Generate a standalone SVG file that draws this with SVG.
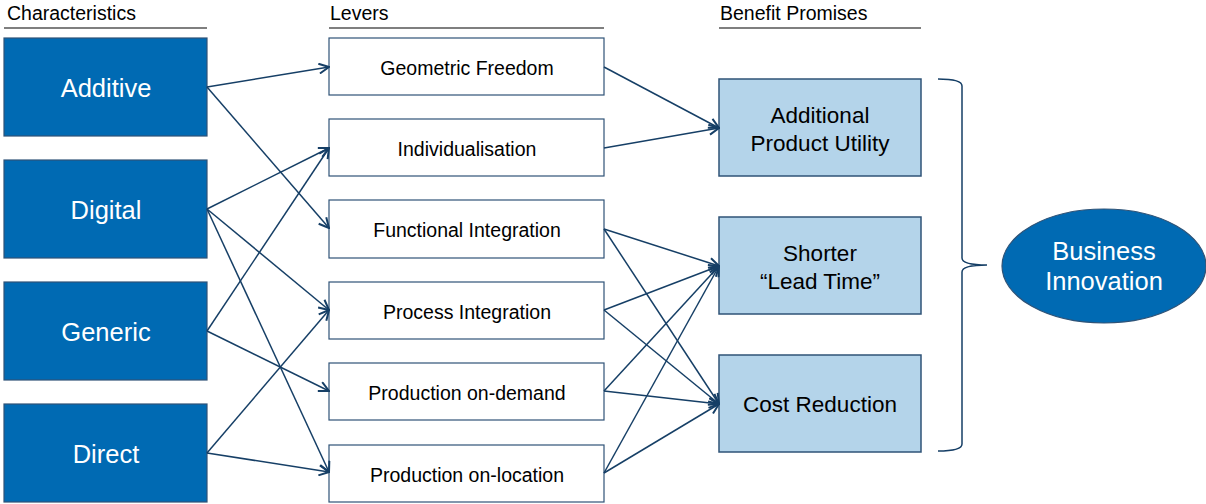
<svg xmlns="http://www.w3.org/2000/svg" width="1206" height="504" viewBox="0 0 1206 504">
  <style>
    text { font-family: "Liberation Sans", Arial, sans-serif; }
    .hdr { font-size: 19.5px; fill: #000; }
    .rule { stroke: #000; stroke-width: 1.2; }
    .char rect { fill: #006AB3; stroke: #2F5377; stroke-width: 1.2; }
    .char text { font-size: 25.5px; fill: #fff; text-anchor: middle; }
    .lever rect { fill: #fff; stroke: #2F5377; stroke-width: 1.2; }
    .lever text { font-size: 19.5px; fill: #000; text-anchor: middle; }
    .benefit rect { fill: #B4D4EA; stroke: #2F5377; stroke-width: 1.5; }
    .benefit text { font-size: 22.5px; fill: #000; text-anchor: middle; }
    .edge { stroke: #163F66; stroke-width: 1.5; fill: none; marker-end: url(#arrow); }
    .brace { stroke: #163F66; stroke-width: 1.5; fill: none; }
    .goal ellipse { fill: #006AB3; stroke: #2F5377; stroke-width: 1.2; }
    .goal text { font-size: 25.5px; fill: #fff; text-anchor: middle; }
  </style>
  <defs>
    <marker id="arrow" viewBox="0 0 12 12" refX="11" refY="6" markerWidth="12" markerHeight="12" markerUnits="userSpaceOnUse" orient="auto">
      <path d="M1,1 L11,6 L1,11" fill="none" stroke="#163F66" stroke-width="2"/>
    </marker>
  </defs>

  <!-- column headers -->
  <g id="headers">
    <text class="hdr" x="7" y="20">Characteristics</text>
    <line class="rule" x1="4" y1="28" x2="207" y2="28"/>
    <text class="hdr" x="330" y="20">Levers</text>
    <line class="rule" x1="329" y1="28" x2="604" y2="28"/>
    <text class="hdr" x="720" y="20">Benefit Promises</text>
    <line class="rule" x1="719" y1="28" x2="921" y2="28"/>
  </g>

  <!-- characteristics -->
  <g id="additive" class="char"><rect x="4" y="38" width="203" height="98"/><text x="106" y="97">Additive</text></g>
  <g id="digital" class="char"><rect x="4" y="160" width="203" height="98"/><text x="106" y="219">Digital</text></g>
  <g id="generic" class="char"><rect x="4" y="282" width="203" height="98"/><text x="106" y="341">Generic</text></g>
  <g id="direct" class="char"><rect x="4" y="404" width="203" height="98"/><text x="106" y="463">Direct</text></g>

  <!-- levers -->
  <g id="geometric-freedom" class="lever"><rect x="329" y="38" width="275" height="57"/><text x="467" y="75">Geometric Freedom</text></g>
  <g id="individualisation" class="lever"><rect x="329" y="119" width="275" height="57"/><text x="467" y="156">Individualisation</text></g>
  <g id="functional-integration" class="lever"><rect x="329" y="200" width="275" height="58"/><text x="467" y="237">Functional Integration</text></g>
  <g id="process-integration" class="lever"><rect x="329" y="282" width="275" height="57"/><text x="467" y="319">Process Integration</text></g>
  <g id="production-on-demand" class="lever"><rect x="329" y="363" width="275" height="57"/><text x="467" y="400">Production on-demand</text></g>
  <g id="production-on-location" class="lever"><rect x="329" y="445" width="275" height="57"/><text x="467" y="482">Production on-location</text></g>

  <!-- benefit promises -->
  <g id="product-utility" class="benefit"><rect x="719" y="79" width="202" height="97"/><text x="820" y="123">Additional</text><text x="820" y="151">Product Utility</text></g>
  <g id="lead-time" class="benefit"><rect x="719" y="217" width="202" height="97"/><text x="820" y="261">Shorter</text><text x="820" y="289">“Lead Time”</text></g>
  <g id="cost-reduction" class="benefit"><rect x="719" y="355" width="202" height="97"/><text x="820" y="412">Cost Reduction</text></g>

  <!-- overall goal -->
  <g id="business-innovation" class="goal">
    <ellipse cx="1104" cy="266" rx="102" ry="57"/>
    <text x="1104" y="260">Business</text>
    <text x="1104" y="290">Innovation</text>
  </g>

  <!-- connectors -->
  <g id="connectors">
    <line class="edge" x1="207" y1="87" x2="329" y2="67"/>
    <line class="edge" x1="207" y1="87" x2="329" y2="228"/>
    <line class="edge" x1="207" y1="209" x2="329" y2="148"/>
    <line class="edge" x1="207" y1="209" x2="329" y2="310"/>
    <line class="edge" x1="207" y1="209" x2="329" y2="472"/>
    <line class="edge" x1="207" y1="331" x2="329" y2="148"/>
    <line class="edge" x1="207" y1="331" x2="329" y2="391"/>
    <line class="edge" x1="207" y1="453" x2="329" y2="310"/>
    <line class="edge" x1="207" y1="453" x2="329" y2="472"/>

    <line class="edge" x1="604" y1="67" x2="719" y2="128"/>
    <line class="edge" x1="604" y1="148" x2="719" y2="128"/>
    <line class="edge" x1="604" y1="229" x2="719" y2="266"/>
    <line class="edge" x1="604" y1="229" x2="719" y2="404"/>
    <line class="edge" x1="604" y1="310" x2="719" y2="266"/>
    <line class="edge" x1="604" y1="310" x2="719" y2="404"/>
    <line class="edge" x1="604" y1="391" x2="719" y2="266"/>
    <line class="edge" x1="604" y1="391" x2="719" y2="404"/>
    <line class="edge" x1="604" y1="473" x2="719" y2="266"/>
    <line class="edge" x1="604" y1="473" x2="719" y2="404"/>

    <path class="brace" d="M938,79 Q962,79 962,86 L962,258 Q962,265 987,265 Q962,265 962,272 L962,444 Q962,451 938,451"/>
  </g>
</svg>
